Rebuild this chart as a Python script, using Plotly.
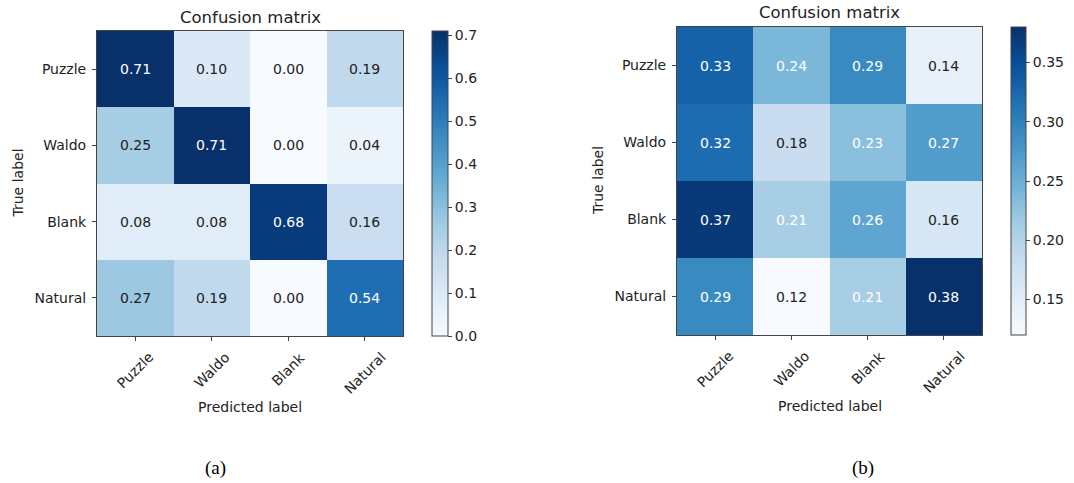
import plotly.graph_objects as go

# Class labels shared by both matrices
labels = ["Puzzle", "Waldo", "Blank", "Natural"]

# Normalised confusion matrices (rows = true label, columns = predicted label)
cm_a = [
    [0.71, 0.10, 0.00, 0.19],
    [0.25, 0.71, 0.00, 0.04],
    [0.08, 0.08, 0.68, 0.16],
    [0.27, 0.19, 0.00, 0.54],
]
cm_b = [
    [0.33, 0.24, 0.29, 0.14],
    [0.32, 0.18, 0.23, 0.27],
    [0.37, 0.21, 0.26, 0.16],
    [0.29, 0.12, 0.21, 0.38],
]

# Colour bar ticks
cbar_ticks_a = [0.0, 0.1, 0.2, 0.3, 0.4, 0.5, 0.6, 0.7]
cbar_ticks_b = [0.15, 0.20, 0.25, 0.30, 0.35]

panel_tags = ["(a)", "(b)"]
title_text = "Confusion matrix"

# matplotlib "Blues"
blues = [
    [0.000, "rgb(247,251,255)"],
    [0.125, "rgb(222,235,247)"],
    [0.250, "rgb(198,219,239)"],
    [0.375, "rgb(158,202,225)"],
    [0.500, "rgb(107,174,214)"],
    [0.625, "rgb(66,146,198)"],
    [0.750, "rgb(33,113,181)"],
    [0.875, "rgb(8,81,156)"],
    [1.000, "rgb(8,48,107)"],
]

W, H = 1074, 483
FONT = "DejaVu Sans"
INK = "#222222"
EDGE = "#444444"


def px_x(p):
    return p / W


def px_y(p):
    return (H - p) / H


# pixel boxes: (left, right, top, bottom) of each heatmap, colour bar left edge
panels = [
    dict(cm=cm_a, box=(97, 403, 31, 336), cbar_x=432, cbar_w=16,
         ticks=cbar_ticks_a, fmt=".1f", title_y=17, ylab_x=18, tag_x=215),
    dict(cm=cm_b, box=(677, 982, 27, 335), cbar_x=1011, cbar_w=15,
         ticks=cbar_ticks_b, fmt=".2f", title_y=13, ylab_x=598, tag_x=863),
]

fig = go.Figure()
annotations = []
idx = list(range(len(labels)))

for k, p in enumerate(panels):
    xa = "x" if k == 0 else "x2"
    ya = "y" if k == 0 else "y2"
    left, right, top, bottom = p["box"]
    z = p["cm"]
    flat = [v for row in z for v in row]
    zmin, zmax = min(flat), max(flat)
    thresh = zmax / 2.0

    fig.add_trace(go.Heatmap(
        z=z, x=idx, y=idx, xaxis=xa, yaxis=ya,
        colorscale=blues, zmin=zmin, zmax=zmax,
        hoverinfo="skip",
        colorbar=dict(
            x=px_x(p["cbar_x"]), xanchor="left", xpad=0,
            y=px_y((top + bottom) / 2), yanchor="middle", ypad=0,
            len=bottom - top, lenmode="pixels",
            thickness=p["cbar_w"], thicknessmode="pixels",
            outlinewidth=1, outlinecolor=EDGE,
            ticks="outside", ticklen=4, tickcolor=EDGE,
            tickvals=p["ticks"], tickformat=p["fmt"],
            tickfont=dict(family=FONT, size=14, color=INK),
        ),
    ))

    axis_common = dict(
        showline=True, mirror=True, linecolor=EDGE, linewidth=1,
        ticks="outside", ticklen=4, tickcolor=EDGE,
        showgrid=False, zeroline=False, fixedrange=True,
        tickfont=dict(family=FONT, size=14, color=INK),
    )
    fig.layout[("xaxis" if k == 0 else "xaxis2")] = dict(
        axis_common, domain=[px_x(left), px_x(right)], anchor=ya,
        range=[-0.5, 3.5], tickvals=idx, showticklabels=False,
    )
    fig.layout[("yaxis" if k == 0 else "yaxis2")] = dict(
        axis_common, domain=[px_y(bottom), px_y(top)], anchor=xa,
        range=[3.5, -0.5], tickvals=idx, ticktext=labels,
        ticklabelstandoff=3,
    )

    # cell values
    for i in idx:
        for j in idx:
            v = z[i][j]
            annotations.append(dict(
                x=j, y=i, xref=xa, yref=ya, text=f"{v:.2f}", showarrow=False,
                font=dict(family=FONT, size=14,
                          color="white" if v > thresh else INK),
            ))

    # rotated x tick labels, centred under their ticks
    for j, lab in enumerate(labels):
        annotations.append(dict(
            x=j, y=px_y(bottom + 10), xref=xa, yref="paper",
            text=lab, textangle=-45, showarrow=False,
            xanchor="center", yanchor="top",
            font=dict(family=FONT, size=14, color=INK),
        ))

    cx = px_x((left + right) / 2)
    annotations += [
        dict(x=cx, y=px_y(p["title_y"]), xref="paper", yref="paper",
             text=title_text, showarrow=False, xanchor="center", yanchor="middle",
             font=dict(family=FONT, size=16.5, color=INK)),
        dict(x=cx, y=px_y(bottom + 71), xref="paper", yref="paper",
             text="Predicted label", showarrow=False, xanchor="center", yanchor="middle",
             font=dict(family=FONT, size=14, color=INK)),
        dict(x=px_x(p["ylab_x"]), y=px_y((top + bottom) / 2), xref="paper", yref="paper",
             text="True label", textangle=-90, showarrow=False,
             xanchor="center", yanchor="middle",
             font=dict(family=FONT, size=14, color=INK)),
        dict(x=px_x(p["tag_x"]), y=px_y(468), xref="paper", yref="paper",
             text=panel_tags[k], showarrow=False, xanchor="center", yanchor="middle",
             font=dict(family="Liberation Serif", size=19, color="black")),
    ]

fig.update_layout(
    width=W, height=H,
    margin=dict(l=0, r=0, t=0, b=0),
    paper_bgcolor="white", plot_bgcolor="white",
    annotations=annotations,
    showlegend=False,
)

fig.write_html("out.html")
